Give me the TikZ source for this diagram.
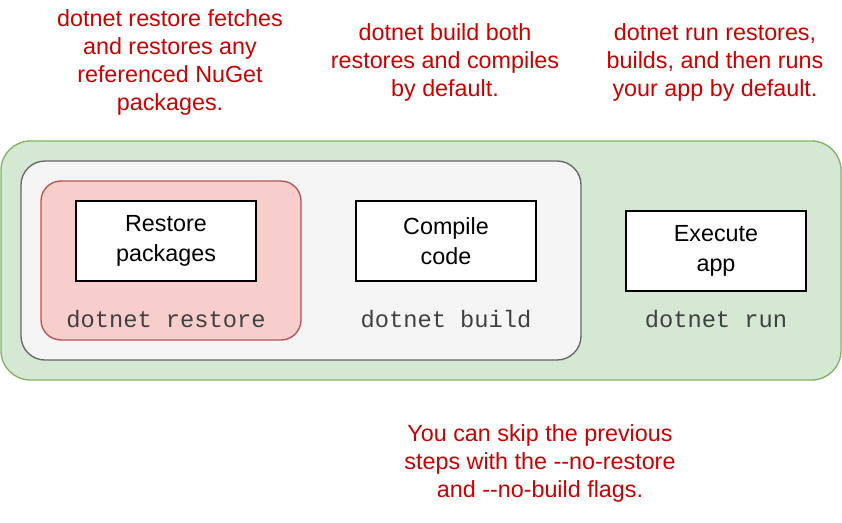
\documentclass[tikz,border=0pt]{standalone}
\usepackage{fontspec}
\setmainfont{Liberation Sans}
\newfontfamily\monof{Liberation Mono}
\begin{document}
\begin{tikzpicture}[x=0.75pt,y=-0.75pt,
  box/.style={draw=black,fill=white,line width=1pt,minimum width=135pt,minimum height=60pt,align=center,inner sep=0pt,font=\fontsize{17.5}{22.5}\selectfont},
  mono/.style={font=\monof\fontsize{17.8}{18}\selectfont,text=black!75},
  note/.style={align=center,text=red!80!black,font=\fontsize{17.5}{21}\selectfont}]
\path[use as bounding box,fill=white] (0,0) rectangle (842,522);
\draw[fill={rgb,255:red,213;green,232;blue,212},draw={rgb,255:red,130;green,179;blue,102},line width=1pt,rounded corners=22pt] (1,141) rectangle (841,380);
\draw[fill={rgb,255:red,245;green,245;blue,245},draw={rgb,255:red,102;green,102;blue,102},line width=1pt,rounded corners=18pt] (21,161) rectangle (581,360);
\draw[fill={rgb,255:red,248;green,206;blue,204},draw={rgb,255:red,184;green,84;blue,80},line width=1pt,rounded corners=15pt] (41,181) rectangle (301,340);
\node[box] (restore) at (166,241) {Restore\\packages};
\node[box] (compile) at (446,241) {Compile\\code};
\node[box] (exec) at (716,251) {Execute\\app};
\node[mono] (l1) at (166,319) {dotnet restore};
\node[mono] (l2) at (446,319) {dotnet build};
\node[mono] (l3) at (716,319) {dotnet run};
\node[note] (n1) at (170,62) {dotnet restore fetches\\and restores any\\referenced NuGet\\packages.};
\node[note] (n2) at (445,62) {dotnet build both\\restores and compiles\\by default.};
\node[note] (n3) at (715,62) {dotnet run restores,\\builds, and then runs\\your app by default.};
\node[note] (n4) at (540,463) {You can skip the previous\\steps with the {-}{-}no-restore\\and {-}{-}no-build flags.};
\end{tikzpicture}
\end{document}
